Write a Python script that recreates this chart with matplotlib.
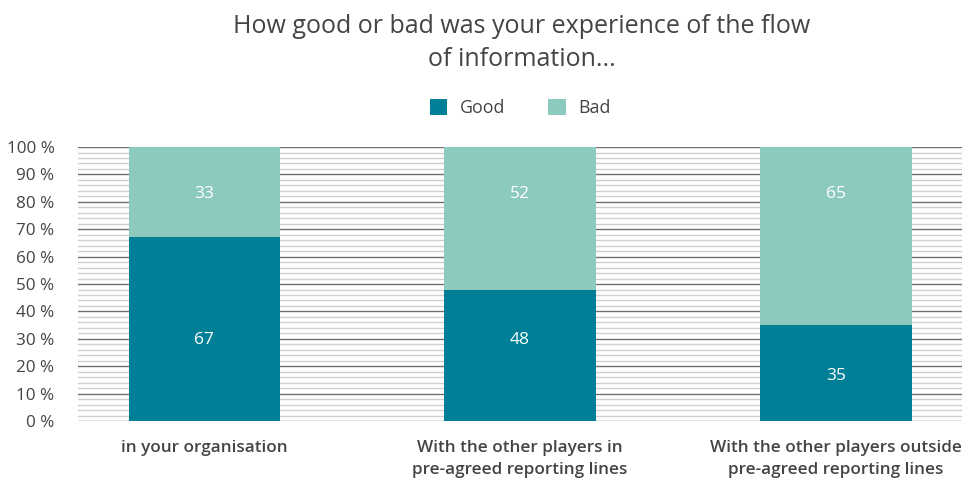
import numpy as np
import matplotlib.pyplot as plt
from matplotlib.ticker import MultipleLocator, FuncFormatter

plt.rcParams['font.family'] = ['Open Sans', 'DejaVu Sans']

categories = ["in your organisation",
              "With the other players in\npre-agreed reporting lines",
              "With the other players outside\npre-agreed reporting lines"]
good = [67, 48, 35]
bad = [33, 52, 65]
# where the value labels sit in the original (not always mid-segment)
good_label_y = [29.6, 29.6, 16.4]
bad_label_y = [83, 83, 83]

c_good = "#007f96"
c_bad = "#8ccac0"
txt = "#444444"

fig = plt.figure(figsize=(9.63, 4.79), dpi=100)
ax = fig.add_axes([0.081, 0.121, 0.918, 0.572])

x = np.arange(len(categories))
w = 0.48
ax.bar(x, good, w, color=c_good, label="Good", zorder=3)
ax.bar(x, bad, w, bottom=good, color=c_bad, label="Bad", zorder=3)

for i in range(len(x)):
    ax.text(x[i], good_label_y[i], str(good[i]), ha="center", va="center",
            color="white", fontsize=12.5, zorder=4)
    ax.text(x[i], bad_label_y[i], str(bad[i]), ha="center", va="center",
            color="white", fontsize=12.5, zorder=4)

ax.set_xlim(-0.4, 2.4)
ax.set_ylim(0, 100)
ax.yaxis.set_major_locator(MultipleLocator(10))
ax.yaxis.set_minor_locator(MultipleLocator(2))
ax.yaxis.set_major_formatter(FuncFormatter(lambda v, p: "%d %%" % v))
ax.grid(axis="y", which="major", color="#6f6f6f", linewidth=1.0, zorder=1)
ax.grid(axis="y", which="minor", color="#cfcfcf", linewidth=1.0, zorder=1)
ax.tick_params(axis="y", which="both", length=0, labelsize=12.3, labelcolor=txt, pad=17)
ax.tick_params(axis="x", length=0, labelsize=12.3, labelcolor=txt, pad=14)
ax.set_xticks(x)
ax.set_xticklabels(categories, fontweight="semibold", linespacing=1.45)
for s in ax.spines.values():
    s.set_visible(False)

ax.legend(loc="lower center", bbox_to_anchor=(0.5, 1.05), ncol=2, frameon=False,
          fontsize=12.8, labelcolor=txt, handlelength=1.0, handleheight=1.0,
          columnspacing=2.4, handletextpad=0.7)

fig.text(0.542, 0.97, "How good or bad was your experience of the flow\nof information...",
         ha="center", va="top", fontsize=18, color=txt, linespacing=1.38)

fig.savefig("out.png", dpi=100)
